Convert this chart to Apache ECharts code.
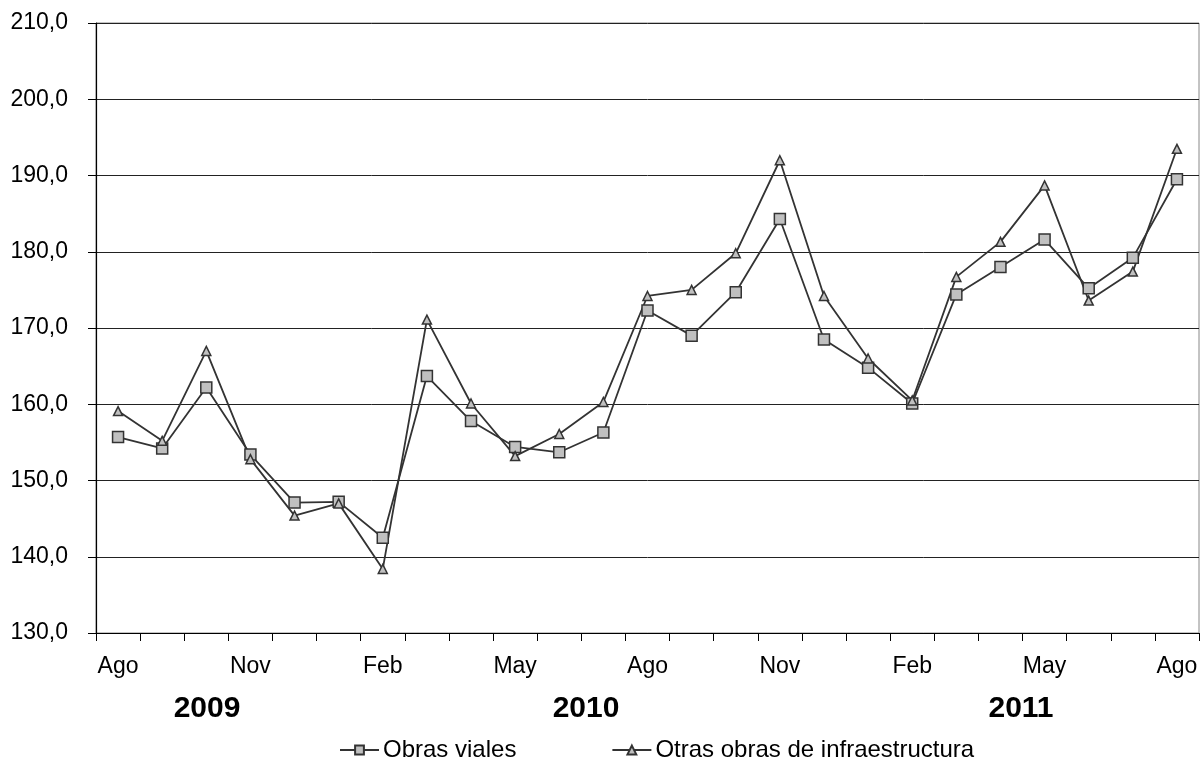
<!DOCTYPE html>
<html>
<head>
<meta charset="utf-8">
<script src="https://cdn.jsdelivr.net/npm/echarts@6/dist/echarts.min.js"></script>
<style>
html,body{margin:0;padding:0;background:#fff;}
#c{width:1202px;height:767px;}
</style>
</head>
<body>
<div id="c"></div>
<script>
var months = ['Ago','Sep','Oct','Nov','Dic','Ene','Feb','Mar','Abr','May','Jun','Jul',
              'Ago','Sep','Oct','Nov','Dic','Ene','Feb','Mar','Abr','May','Jun','Jul','Ago'];
var obrasViales = [155.7,154.2,162.2,153.4,147.1,147.2,142.5,163.7,157.8,154.4,153.7,156.3,
                   172.3,169.0,174.7,184.3,168.5,164.8,160.1,174.4,178.0,181.6,175.2,179.2,189.5];
var otrasObras = [159.1,155.2,167.0,152.8,145.4,147.0,138.4,171.1,160.1,153.2,156.1,160.3,
                  174.2,175.0,179.8,192.0,174.2,166.0,160.5,176.7,181.3,188.7,173.6,177.4,193.5];
var seriesNames = ['Obras viales','Otras obras de infraestructura'];
var yearLabels = ['2009','2010','2011'];
var yTicks = {min:130, max:210, interval:10};

var chart = echarts.init(document.getElementById('c'), null, {renderer:'canvas'});
var font = 'Liberation Sans, Arial, sans-serif';
var lineColor = '#333333';
var option = {
  animation:false,
  backgroundColor:'#ffffff',
  grid:{left:96, right:3, top:23, bottom:134, show:true, borderColor:'#888888', borderWidth:1},
  xAxis:{
    type:'category',
    data:months,
    boundaryGap:true,
    axisLine:{lineStyle:{color:'#000', width:1.2}},
    axisTick:{show:true, interval:0, length:8, inside:false, alignWithLabel:false, lineStyle:{color:'#000'}},
    axisLabel:{interval:2, color:'#000', fontFamily:font, fontSize:23, margin:22},
    splitLine:{show:false}
  },
  yAxis:{
    type:'value',
    min:yTicks.min, max:yTicks.max, interval:yTicks.interval,
    axisLine:{show:true, lineStyle:{color:'#000', width:1.2}},
    axisTick:{show:true, length:8, lineStyle:{color:'#000'}},
    axisLabel:{color:'#000', fontFamily:font, fontSize:23, margin:28,
      formatter:function(v){return v.toFixed(1).replace('.',',');}},
    splitLine:{show:true, lineStyle:{color:'#222', width:1}}
  },
  legend:{
    bottom:0, left:334, itemGap:95, itemWidth:39, itemHeight:11,
    textStyle:{color:'#000', fontFamily:font, fontSize:24, padding:[0,0,0,-1]},
    data:seriesNames
  },
  series:[
    {name:seriesNames[0], type:'line', data:obrasViales, symbol:'rect', symbolSize:11,
     lineStyle:{color:lineColor, width:1.8},
     itemStyle:{color:'#c0c0c0', borderColor:lineColor, borderWidth:1.5}},
    {name:seriesNames[1], type:'line', data:otrasObras, symbol:'triangle', symbolSize:9,
     lineStyle:{color:lineColor, width:1.8},
     itemStyle:{color:'#c0c0c0', borderColor:lineColor, borderWidth:1.5}}
  ],
  graphic:[
    {type:'text', x:207, y:709, style:{text:yearLabels[0], font:'bold 30px '+font, fill:'#000', textAlign:'center', textVerticalAlign:'middle'}},
    {type:'text', x:586, y:709, style:{text:yearLabels[1], font:'bold 30px '+font, fill:'#000', textAlign:'center', textVerticalAlign:'middle'}},
    {type:'text', x:1021, y:709, style:{text:yearLabels[2], font:'bold 30px '+font, fill:'#000', textAlign:'center', textVerticalAlign:'middle'}}
  ]
};
chart.setOption(option);
</script>
</body>
</html>
